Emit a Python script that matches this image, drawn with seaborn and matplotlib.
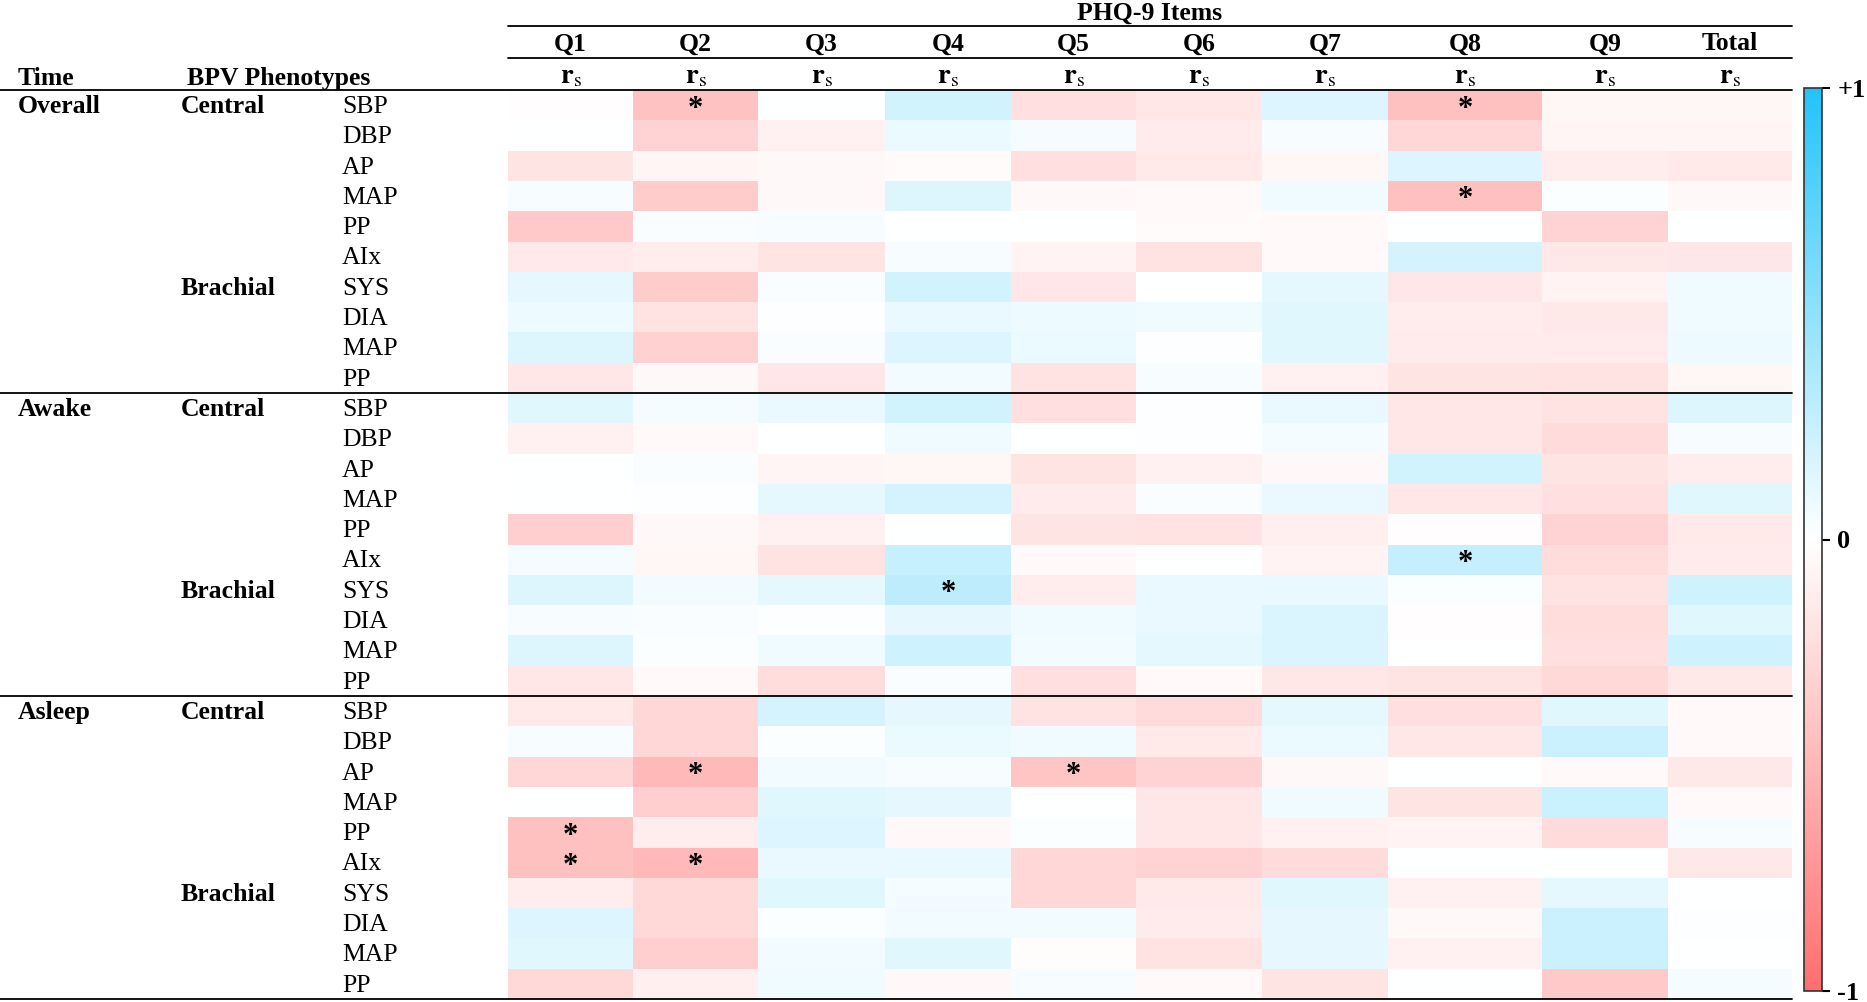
import numpy as np
import pandas as pd
import seaborn as sns
import matplotlib.pyplot as plt
from matplotlib.colors import LinearSegmentedColormap
from matplotlib.lines import Line2D
from matplotlib import transforms

items = ["Q1", "Q2", "Q3", "Q4", "Q5", "Q6", "Q7", "Q8", "Q9", "Total"]
time_groups = ["Overall", "Awake", "Asleep"]
site_groups = ["Central", "Brachial"]
central_measures = ["SBP", "DBP", "AP", "MAP", "PP", "AIx"]
brachial_measures = ["SYS", "DIA", "MAP", "PP"]

# spearman r, rows = central measures then brachial measures, cols = items
overall_rs = [
    [-0.01, -0.42, 0.00, 0.21, -0.22, -0.17, 0.16, -0.43, -0.06, -0.06],
    [0.00, -0.30, -0.10, 0.09, 0.05, -0.14, 0.04, -0.28, -0.07, -0.07],
    [-0.18, -0.07, -0.05, -0.03, -0.22, -0.15, -0.06, 0.16, -0.13, -0.15],
    [0.04, -0.35, -0.05, 0.15, -0.05, -0.04, 0.07, -0.43, 0.02, -0.05],
    [-0.37, 0.03, 0.04, 0.00, 0.00, -0.03, -0.04, 0.00, -0.30, 0.00],
    [-0.15, -0.12, -0.18, 0.04, -0.08, -0.20, -0.04, 0.19, -0.16, -0.17],
    [0.11, -0.35, 0.03, 0.21, -0.17, 0.00, 0.12, -0.17, -0.08, 0.07],
    [0.08, -0.20, 0.01, 0.10, 0.08, 0.07, 0.14, -0.12, -0.16, 0.07],
    [0.15, -0.32, 0.03, 0.16, 0.09, 0.01, 0.14, -0.14, -0.14, 0.08],
    [-0.17, -0.05, -0.17, 0.06, -0.20, 0.04, -0.10, -0.18, -0.20, -0.06],
]
awake_rs = [
    [0.14, 0.05, 0.10, 0.21, -0.22, 0.01, 0.10, -0.17, -0.20, 0.15],
    [-0.10, -0.04, 0.00, 0.07, 0.00, 0.01, 0.05, -0.17, -0.24, 0.04],
    [0.00, 0.03, -0.07, -0.06, -0.18, -0.10, -0.05, 0.21, -0.18, -0.13],
    [0.00, 0.01, 0.12, 0.19, -0.14, 0.03, 0.10, -0.17, -0.22, 0.14],
    [-0.33, -0.05, -0.10, 0.00, -0.18, -0.20, -0.11, -0.01, -0.30, -0.15],
    [0.05, -0.06, -0.20, 0.25, -0.04, 0.00, -0.08, 0.26, -0.23, -0.14],
    [0.15, 0.06, 0.12, 0.30, -0.13, 0.10, 0.10, 0.02, -0.20, 0.22],
    [0.04, 0.03, 0.01, 0.11, 0.07, 0.10, 0.17, -0.01, -0.23, 0.14],
    [0.15, 0.02, 0.07, 0.22, 0.06, 0.12, 0.17, 0.00, -0.22, 0.22],
    [-0.17, -0.04, -0.23, 0.03, -0.22, -0.04, -0.17, -0.18, -0.27, -0.16],
]
asleep_rs = [
    [-0.15, -0.28, 0.19, 0.11, -0.20, -0.25, 0.12, -0.22, 0.14, -0.04],
    [0.04, -0.28, 0.02, 0.09, 0.07, -0.15, 0.09, -0.17, 0.23, -0.04],
    [-0.28, -0.48, 0.06, 0.04, -0.40, -0.30, -0.05, 0.00, -0.04, -0.16],
    [0.00, -0.34, 0.14, 0.11, 0.00, -0.17, 0.07, -0.18, 0.24, -0.04],
    [-0.43, -0.13, 0.16, -0.05, 0.02, -0.17, -0.10, -0.08, -0.25, 0.04],
    [-0.43, -0.48, 0.10, 0.10, -0.28, -0.30, -0.25, 0.00, 0.00, -0.16],
    [-0.13, -0.27, 0.14, 0.05, -0.28, -0.15, 0.14, -0.10, 0.12, 0.00],
    [0.16, -0.27, 0.02, 0.06, 0.06, -0.14, 0.11, -0.05, 0.23, 0.01],
    [0.14, -0.34, 0.06, 0.14, -0.02, -0.20, 0.11, -0.10, 0.23, 0.00],
    [-0.27, -0.11, 0.07, -0.05, 0.04, -0.04, -0.18, 0.00, -0.37, 0.05],
]
# (time group, row within group, item) marked with *
sig_cells = [
    ("Overall", 0, "Q2"), ("Overall", 0, "Q8"), ("Overall", 3, "Q8"),
    ("Awake", 5, "Q8"), ("Awake", 6, "Q4"),
    ("Asleep", 2, "Q2"), ("Asleep", 2, "Q5"), ("Asleep", 4, "Q1"),
    ("Asleep", 5, "Q1"), ("Asleep", 5, "Q2"),
]

measures = central_measures + brachial_measures
n_per = len(measures)
values = np.vstack([overall_rs, awake_rs, asleep_rs])
row_index = [f"{t} {m} {i}" for t in time_groups for i, m in enumerate(measures)]
df = pd.DataFrame(values, index=row_index, columns=items)

stars = np.full(values.shape, "", dtype=object)
for t, r, q in sig_cells:
    stars[time_groups.index(t) * n_per + r, items.index(q)] = "*"

sns.set_theme(style="white")
plt.rcParams["font.family"] = ["Liberation Serif", "DejaVu Serif"]
plt.rcParams["mathtext.fontset"] = "stix"

cmap = LinearSegmentedColormap.from_list("rwb", ["#FF6E6E", "#FFFFFF", "#23C3FA"])

W, H = 1867, 1002
fig = plt.figure(figsize=(W / 100, H / 100), dpi=100)
ax = fig.add_axes([508 / W, 1 - 999 / H, (1792 - 508) / W, (999 - 90) / H])
cax = fig.add_axes([1804 / W, 1 - 991 / H, 18 / W, (991 - 88) / H])

sns.heatmap(df, ax=ax, cbar_ax=cax, cmap=cmap, vmin=-1, vmax=1,
            annot=stars, fmt="", xticklabels=False, yticklabels=False,
            annot_kws={"fontsize": 22, "fontweight": "bold", "color": "black"})
ax.set_xlabel("")
ax.set_ylabel("")
# asterisks sit high in their glyph box, nudge them down a little
for txt in ax.texts:
    x0, y0 = txt.get_position()
    txt.set_position((x0, y0 + 0.13))

# the Q8 column is wider than the others in the table: piecewise-linear x scale
col_px = np.array([-12332, 508, 633, 758, 885, 1011, 1136, 1262, 1388, 1542, 1668, 1792, 14632])
col_idx = np.array([-100, 0, 1, 2, 3, 4, 5, 6, 7, 8, 9, 10, 110], dtype=float)
ax.set_xscale("function", functions=(lambda x: np.interp(x, col_idx, col_px),
                                     lambda p: np.interp(p, col_px, col_idx)))
ax.set_xlim(0, len(items))
ax.set_xticks([])
ax.minorticks_off()

# colorbar
cbar = ax.collections[0].colorbar
cbar.set_ticks([-1, 0, 1])
cbar.set_ticklabels(["-1", "0", "+1"])
cbar.outline.set_edgecolor("#333333")
cbar.outline.set_linewidth(1.2)
cax.tick_params(length=6, width=1.5, pad=5, labelsize=19, colors="black")
for lab in cax.get_yticklabels():
    lab.set_fontweight("bold")

fs = 18.5
bold = {"fontsize": fs, "fontweight": "bold", "color": "black"}
plain = {"fontsize": fs, "color": "black"}

# row labels: x in figure, y in data rows
tr_rows = transforms.blended_transform_factory(fig.transFigure, ax.transData)
dy = 0.06  # small downward nudge of the row text
for g, t in enumerate(time_groups):
    base = g * n_per + dy
    fig.text(18 / W, base + 0.5, t, transform=tr_rows, ha="left", va="center", **bold)
    fig.text(181 / W, base + 0.5, site_groups[0], transform=tr_rows, ha="left", va="center", **bold)
    fig.text(181 / W, base + len(central_measures) + 0.5, site_groups[1], transform=tr_rows,
             ha="left", va="center", **bold)
    for i, m in enumerate(measures):
        fig.text(342 / W, base + i + 0.5, m, transform=tr_rows, ha="left", va="center", **plain)

# separating lines across the table
for y in [0, n_per, 2 * n_per, 3 * n_per]:
    fig.add_artist(Line2D([0, 1792 / W], [y, y], transform=tr_rows, color="black", lw=1.3))

# column header
tr_cols = transforms.blended_transform_factory(ax.transData, fig.transFigure)
tr_span = transforms.blended_transform_factory(ax.transAxes, fig.transFigure)
fig.text(0.5, 1 - 13 / H, "PHQ-9 Items", transform=tr_span, ha="center", va="center", **bold)
for yl in [1 - 26 / H, 1 - 58 / H]:
    fig.add_artist(Line2D([0, 1], [yl, yl], transform=tr_span, color="black", lw=1.3))
for j, q in enumerate(items):
    fig.text(j + 0.5, 1 - 44 / H, q, transform=tr_cols, ha="center", va="center", **bold)
    fig.text(j + 0.5, 1 - 77 / H, r"$\mathbf{r}_{\mathrm{s}}$", transform=tr_cols,
             ha="center", va="center", fontsize=fs + 2, color="black")

fig.text(18 / W, 1 - 78 / H, "Time", ha="left", va="center", **bold)
fig.text(187 / W, 1 - 78 / H, "BPV Phenotypes", ha="left", va="center", **bold)

fig.savefig("out.png", dpi=100)
